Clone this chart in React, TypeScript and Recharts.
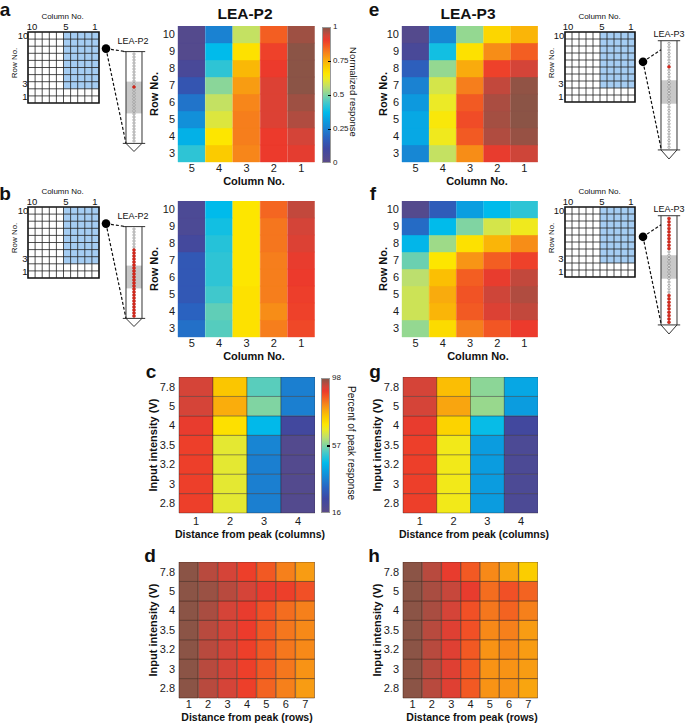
import React from "react";
import {
  BarChart,
  Bar,
  XAxis,
  YAxis,
  Cell,
  ScatterChart,
  Scatter,
  ReferenceLine,
  ReferenceArea,
} from "recharts";

const FONT = '"Liberation Sans", Arial, Helvetica, sans-serif';

// ---------- heatmap data (a, b, e, f): normalized response ----------
const columnNos = ["5", "4", "3", "2", "1"];
const rowNos = ["10", "9", "8", "7", "6", "5", "4", "3"]; // top to bottom

// rows 10..3, columns 5..1
const p2Single = [
  [0.02, 0.25, 0.57, 0.86, 0.985],
  [0.02, 0.37, 0.67, 0.9, 1.0],
  [0.06, 0.42, 0.74, 0.91, 1.0],
  [0.14, 0.51, 0.78, 0.93, 1.0],
  [0.22, 0.57, 0.81, 0.93, 0.985],
  [0.28, 0.6, 0.82, 0.93, 0.97],
  [0.35, 0.66, 0.82, 0.91, 0.94],
  [0.42, 0.71, 0.81, 0.91, 0.92],
];
const p2Multi = [
  [0.05, 0.37, 0.66, 0.85, 0.955],
  [0.05, 0.39, 0.66, 0.83, 0.94],
  [0.08, 0.41, 0.66, 0.83, 0.93],
  [0.15, 0.42, 0.66, 0.82, 0.915],
  [0.15, 0.42, 0.66, 0.82, 0.91],
  [0.15, 0.44, 0.67, 0.82, 0.905],
  [0.18, 0.47, 0.67, 0.8, 0.9],
  [0.21, 0.46, 0.67, 0.82, 0.89],
];
const p3Single = [
  [0.02, 0.26, 0.52, 0.69, 0.745],
  [0.06, 0.39, 0.67, 0.8, 0.86],
  [0.17, 0.52, 0.76, 0.9, 0.94],
  [0.25, 0.59, 0.82, 0.955, 0.995],
  [0.3, 0.62, 0.865, 0.975, 1.0],
  [0.33, 0.65, 0.885, 0.98, 1.0],
  [0.33, 0.63, 0.865, 0.97, 0.99],
  [0.26, 0.57, 0.8, 0.915, 0.945],
];
const p3Multi = [
  [0.02, 0.16, 0.31, 0.37, 0.42],
  [0.2, 0.37, 0.5, 0.59, 0.63],
  [0.36, 0.53, 0.67, 0.745, 0.8],
  [0.48, 0.66, 0.79, 0.86, 0.9],
  [0.56, 0.73, 0.86, 0.915, 0.955],
  [0.58, 0.76, 0.875, 0.945, 0.97],
  [0.58, 0.745, 0.865, 0.93, 0.955],
  [0.52, 0.68, 0.82, 0.87, 0.91],
];

// ---------- spread data (c, d, g, h): percent of peak response ----------
const intensities = ["7.8", "5", "4", "3.5", "3.2", "3", "2.8"]; // top to bottom
const colDistances = ["1", "2", "3", "4"];
const rowDistances = ["1", "2", "3", "4", "5", "6", "7"];

const p2ColSpread = [
  [93, 75, 54, 36],
  [93, 78, 57, 36],
  [91, 71, 46, 23],
  [90, 66, 37, 18],
  [90, 66, 36, 18],
  [90, 66, 36, 18],
  [90, 66, 36, 18],
];
const p3ColSpread = [
  [93, 76, 58, 43],
  [93, 79, 59, 41],
  [91, 73, 47, 23],
  [90, 68, 41, 20],
  [90, 68, 41, 20],
  [90, 68, 41, 20],
  [90, 68, 41, 20],
];
const p2RowSpread = [
  [98, 95, 93, 90, 87, 83, 80],
  [98, 97, 95, 93, 91, 90, 88],
  [98, 96, 93, 91, 88, 85, 83],
  [98, 95, 93, 90.5, 87, 84, 82],
  [98, 95, 93, 90, 87, 84, 82],
  [98, 95, 93, 90, 87, 84, 81],
  [98, 95, 93, 90, 86, 83, 80],
];
const p3RowSpread = [
  [98, 95, 91, 87, 82, 79, 74],
  [98, 96, 94, 91, 85, 88, 86],
  [98, 96, 93, 88, 84, 86, 83],
  [98, 95, 92, 88, 82, 83, 80],
  [98, 95, 92, 87, 81, 82, 80],
  [98, 95, 92, 87, 81, 81, 80],
  [98, 95, 92, 87, 81, 81, 79],
];

// ---------- electrode schematics ----------
const gridIdx = [1, 2, 3, 4, 5, 6, 7, 8, 9];
const gridCorners = [
  { x: 0, y: 0 },
  { x: 10, y: 10 },
];
const redP2a = [11];
const redP2b = [7, 8, 9, 10, 11, 12, 13, 14, 15, 16, 17, 18, 19, 20, 21, 22, 23, 24, 25, 26, 27, 28, 29];
const redP3e = [7];
const redP3f = [0, 1, 2, 3, 4, 5, 6, 7, 8, 9, 23, 24, 25, 26, 27, 28, 29, 30, 31];

// ---------- colormap ----------
const cmap: Array<[number, string]> = [
  [0.0, "#5a4b88"],
  [0.1, "#3e48a2"],
  [0.18, "#2a62c0"],
  [0.25, "#1a82d2"],
  [0.31, "#0a9ee0"],
  [0.37, "#00bbeb"],
  [0.44, "#40c8cc"],
  [0.5, "#80d4a2"],
  [0.56, "#bcdf6e"],
  [0.62, "#ecea26"],
  [0.66, "#fde600"],
  [0.72, "#fbc600"],
  [0.77, "#f9a410"],
  [0.82, "#f67e1c"],
  [0.87, "#f25624"],
  [0.91, "#ec3a2c"],
  [0.94, "#d44438"],
  [0.97, "#b04c40"],
  [1.0, "#8b5446"],
];

const rgb = (h: string) => [1, 3, 5].map((i) => parseInt(h.slice(i, i + 2), 16));

function colorAt(t: number) {
  const v = Math.max(0, Math.min(1, t));
  for (let i = 1; i < cmap.length; i++) {
    if (v <= cmap[i][0]) {
      const [t0, c0] = cmap[i - 1];
      const [t1, c1] = cmap[i];
      const f = (v - t0) / (t1 - t0);
      const a = rgb(c0);
      const b = rgb(c1);
      return `rgb(${a.map((x, k) => Math.round(x + (b[k] - x) * f)).join(",")})`;
    }
  }
  return cmap[cmap.length - 1][1];
}

const norm = (v: number) => v;
const pct = (p: number) => (p - 16) / 82;

const gradient = `linear-gradient(to top, ${cmap.map(([t, c]) => `${c} ${t * 100}%`).join(", ")})`;

// ---------- pieces ----------
const Label = ({ x, y, text, size = 11, bold = false, rotate = 0 }: any) => (
  <div
    style={{
      position: "absolute",
      left: x,
      top: y,
      transform: `translate(-50%, -50%) rotate(${rotate}deg)`,
      fontSize: size,
      fontWeight: bold ? 700 : 400,
      whiteSpace: "nowrap",
      lineHeight: 1,
      color: "#111",
    }}
  >
    {text}
  </div>
);

function Heatmap({ left, top, plotW, plotH, cols, rows, values, toT, stroke, xMargin = 3, yMargin = 3 }: any) {
  const yw = 30;
  const xh = 22;
  const n = rows.length;
  const data = cols.map((c: string) => {
    const d: Record<string, string | number> = { name: c };
    rows.forEach((_: string, k: number) => (d[`r${k}`] = 1));
    return d;
  });
  return (
    <div style={{ position: "absolute", left: left - yw, top }}>
      <BarChart
        width={plotW + yw}
        height={plotH + xh}
        data={data}
        margin={{ top: 0, right: 0, bottom: 0, left: 0 }}
        barCategoryGap={0}
        barGap={0}
      >
        <XAxis
          dataKey="name"
          axisLine={false}
          tickLine={false}
          tickSize={0}
          tickMargin={xMargin}
          height={xh}
          interval={0}
          tick={{ fontSize: 11, fill: "#1a1a1a" }}
        />
        <YAxis
          type="number"
          domain={[0, n]}
          ticks={rows.map((_: string, i: number) => n - i - 0.5)}
          tickFormatter={(v: number) => rows[n - 1 - Math.floor(v)]}
          width={yw}
          axisLine={false}
          tickLine={false}
          tickSize={0}
          tickMargin={yMargin}
          interval={0}
          tick={{ fontSize: 11, fill: "#1a1a1a" }}
        />
        {rows.map((_: string, k: number) => {
          const i = n - 1 - k;
          return (
            <Bar key={k} dataKey={`r${k}`} stackId="cells" isAnimationActive={false}>
              {cols.map((c: string, j: number) => {
                const fill = colorAt(toT(values[i][j]));
                return <Cell key={c} fill={fill} stroke={stroke ?? fill} strokeWidth={stroke ? 0.8 : 0.4} />;
              })}
            </Bar>
          );
        })}
      </BarChart>
    </div>
  );
}

function ArrayGrid({ left, top, size }: any) {
  return (
    <div style={{ position: "absolute", left: left - 1, top: top - 1 }}>
      <ScatterChart width={size + 2} height={size + 2} margin={{ top: 1, right: 1, bottom: 1, left: 1 }}>
        <XAxis type="number" dataKey="x" domain={[0, 10]} hide />
        <YAxis type="number" dataKey="y" domain={[0, 10]} hide />
        <ReferenceArea x1={5} x2={10} y1={2} y2={10} fill="#a5cdf3" fillOpacity={1} stroke="none" />
        {gridIdx.map((v) => (
          <ReferenceLine key={`v${v}`} x={v} stroke="#222" strokeWidth={0.8} />
        ))}
        {gridIdx.map((v) => (
          <ReferenceLine key={`h${v}`} y={v} stroke="#222" strokeWidth={0.8} />
        ))}
        <ReferenceArea x1={0} x2={10} y1={0} y2={10} fill="none" stroke="#111" strokeWidth={1.6} />
        <Scatter data={gridCorners} isAnimationActive={false} shape={() => <g />} />
      </ScatterChart>
    </div>
  );
}

const ContactShape = (p: any) => {
  const on = p.payload && p.payload.on;
  return (
    <circle
      cx={p.cx}
      cy={p.cy}
      r={on ? 1.5 : 1.15}
      fill={on ? "#d9291c" : "#fff"}
      stroke={on ? "#b8221a" : "#666"}
      strokeWidth={0.55}
    />
  );
};
const DotShape = (p: any) => <circle cx={p.cx} cy={p.cy} r={4.3} fill="#000" />;

function Electrode({ cx, top, unitY, n, red, band, dot, dashTop, dashBottom }: any) {
  const unitX = 8;
  const xMin = -5;
  const xMax = 1.6;
  const yMin = -4;
  const yMax = n + 4;
  const contacts = Array.from({ length: n }, (_, i) => ({ x: 0, y: i, on: red.includes(i) }));
  const bot = n - 0.2;
  const tip = n + 2.5;
  const line = { stroke: "#333", strokeWidth: 1 };
  return (
    <div style={{ position: "absolute", left: cx + xMin * unitX, top }}>
      <ScatterChart
        width={(xMax - xMin) * unitX}
        height={(yMax - yMin) * unitY}
        margin={{ top: 0, right: 0, bottom: 0, left: 0 }}
      >
        <XAxis type="number" dataKey="x" domain={[xMin, xMax]} hide />
        <YAxis type="number" dataKey="y" domain={[yMin, yMax]} reversed hide />
        <ReferenceArea x1={-1} x2={1} y1={band[0]} y2={band[1]} fill="#c8c8c8" fillOpacity={1} stroke="none" />
        <ReferenceLine segment={[{ x: -1, y: -0.8 }, { x: -1, y: bot }]} {...line} />
        <ReferenceLine segment={[{ x: 1, y: -0.8 }, { x: 1, y: bot }]} {...line} />
        <ReferenceLine segment={[{ x: -1.4, y: -0.8 }, { x: 1.4, y: -0.8 }]} {...line} />
        <ReferenceLine segment={[{ x: -1.4, y: bot }, { x: 1.4, y: bot }]} {...line} />
        <ReferenceLine segment={[{ x: -1, y: bot }, { x: 0, y: tip }]} {...line} />
        <ReferenceLine segment={[{ x: 0, y: tip }, { x: 1, y: bot }]} {...line} />
        <ReferenceLine segment={[dot, dashTop]} stroke="#111" strokeWidth={1.2} strokeDasharray="3 2" />
        <ReferenceLine segment={[dot, dashBottom]} stroke="#111" strokeWidth={1.2} strokeDasharray="3 2" />
        <Scatter data={contacts} isAnimationActive={false} shape={ContactShape} />
        <Scatter data={[dot]} isAnimationActive={false} shape={DotShape} />
      </ScatterChart>
    </div>
  );
}

function Schematic({ gx, gy, colXs, rowLabelX, rowNoX, probe, probeX, probeY }: any) {
  return (
    <>
      <Label x={(gx + gx + 71) / 2 - 1} y={gy - 15} text="Column No." size={8} />
      <Label x={colXs[0]} y={gy - 5} text="10" size={9.5} />
      <Label x={colXs[1]} y={gy - 5} text="5" size={9.5} />
      <Label x={colXs[2]} y={gy - 5} text="1" size={9.5} />
      <Label x={rowNoX} y={gy + 31} text="Row No." size={8} rotate={-90} />
      <Label x={rowLabelX - 2} y={gy + 4} text="10" size={9.5} />
      <Label x={rowLabelX} y={gy + 52} text="3" size={9.5} />
      <Label x={rowLabelX} y={gy + 65} text="1" size={9.5} />
      <Label x={probeX} y={probeY} text={probe} size={9} />
    </>
  );
}

const Colorbar = ({ left, top, height, labels }: any) => (
  <>
    <div
      style={{
        position: "absolute",
        left,
        top,
        width: 9,
        height,
        background: gradient,
        border: "0.5px solid #999",
        boxSizing: "border-box",
      }}
    />
    {labels.map(([frac, txt, mark]: [number, string, boolean]) => (
      <React.Fragment key={txt}>
        {mark && (
          <div
            style={{
              position: "absolute",
              left: left + 6,
              top: top + height * (1 - frac) - 0.5,
              width: 3,
              height: 1.5,
              background: "#000",
            }}
          />
        )}
        <div
          style={{
            position: "absolute",
            left: left + 11,
            top: top + height * (1 - frac) - 5,
            fontSize: 8,
            lineHeight: "10px",
            color: "#222",
          }}
        >
          {txt}
        </div>
      </React.Fragment>
    ))}
  </>
);

export default function App() {
  return (
    <div
      style={{
        position: "absolute",
        left: 0,
        top: 0,
        width: 685,
        height: 725,
        background: "#fff",
        fontFamily: FONT,
        overflow: "hidden",
      }}
    >
      {/* panel letters */}
      <Label x={5} y={9} text="a" size={19} bold />
      <Label x={5} y={193} text="b" size={19} bold />
      <Label x={151} y={371} text="c" size={19} bold />
      <Label x={150} y={555} text="d" size={19} bold />
      <Label x={374} y={9} text="e" size={19} bold />
      <Label x={373} y={193} text="f" size={19} bold />
      <Label x={375} y={371} text="g" size={19} bold />
      <Label x={374} y={555} text="h" size={19} bold />

      {/* titles */}
      <Label x={245} y={14} text="LEA-P2" size={15.5} bold />
      <Label x={468} y={14} text="LEA-P3" size={15.5} bold />

      {/* schematics */}
      <ArrayGrid left={28} top={32} size={71} />
      <Schematic gx={28} gy={32} colXs={[32, 66, 95]} rowLabelX={25} rowNoX={15} probe="LEA-P2" probeX={133} probeY={41} />
      <Electrode cx={134} top={41.5} unitY={3} n={30} red={redP2a} band={[9.2, 19.8]}
        dot={{ x: -3.5, y: -1.8 }} dashTop={{ x: -1, y: -0.8 }} dashBottom={{ x: -1, y: 29.8 }} />

      <ArrayGrid left={28} top={207} size={71} />
      <Schematic gx={28} gy={207} colXs={[32, 66, 95]} rowLabelX={25} rowNoX={15} probe="LEA-P2" probeX={133} probeY={216} />
      <Electrode cx={134} top={216.5} unitY={3} n={30} red={redP2b} band={[12.2, 19.8]}
        dot={{ x: -3.5, y: -1.8 }} dashTop={{ x: -1, y: -0.8 }} dashBottom={{ x: -1, y: 29.8 }} />

      <ArrayGrid left={565} top={32} size={70} />
      <Schematic gx={565} gy={32} colXs={[568, 602, 631]} rowLabelX={561} rowNoX={552} probe="LEA-P3" probeX={669} probeY={34} />
      <Electrode cx={669} top={30.3} unitY={3.35} n={32} red={redP3e} band={[11, 18]}
        dot={{ x: -3.25, y: 5.5 }} dashTop={{ x: -1, y: 1.9 }} dashBottom={{ x: -1, y: 31.3 }} />

      <ArrayGrid left={565} top={207} size={70} />
      <Schematic gx={565} gy={207} colXs={[568, 602, 631]} rowLabelX={561} rowNoX={552} probe="LEA-P3" probeX={669} probeY={209} />
      <Electrode cx={669} top={205.3} unitY={3.35} n={32} red={redP3f} band={[11, 18]}
        dot={{ x: -3.25, y: 5.5 }} dashTop={{ x: -1, y: 1.9 }} dashBottom={{ x: -1, y: 31.3 }} />

      {/* a */}
      <Heatmap left={178} top={26} plotW={137} plotH={136} cols={columnNos} rows={rowNos} values={p2Single} toT={norm} xMargin={2} />
      <Label x={154} y={94} text="Row No." size={11} bold rotate={-90} />
      <Label x={254} y={181} text="Column No." size={11} bold />
      <Colorbar left={322} top={27} height={136}
        labels={[[1, "1", false], [0.75, "0.75", true], [0.5, "0.5", true], [0.25, "0.25", true], [0, "0", false]]} />
      <Label x={353} y={92} text="Normalized response" size={9.5} rotate={90} />

      {/* b */}
      <Heatmap left={178} top={201} plotW={137} plotH={136} cols={columnNos} rows={rowNos} values={p2Multi} toT={norm} xMargin={2} />
      <Label x={154} y={269} text="Row No." size={11} bold rotate={-90} />
      <Label x={254} y={356} text="Column No." size={11} bold />

      {/* e */}
      <Heatmap left={402} top={26} plotW={136} plotH={136} cols={columnNos} rows={rowNos} values={p3Single} toT={norm} xMargin={2} />
      <Label x={383} y={94} text="Row No." size={11} bold rotate={-90} />
      <Label x={477} y={181} text="Column No." size={11} bold />

      {/* f */}
      <Heatmap left={402} top={201} plotW={136} plotH={136} cols={columnNos} rows={rowNos} values={p3Multi} toT={norm} xMargin={2} />
      <Label x={383} y={269} text="Row No." size={11} bold rotate={-90} />
      <Label x={478} y={356} text="Column No." size={11} bold />

      {/* c */}
      <Heatmap left={179} top={377} plotW={136} plotH={136} cols={colDistances} rows={intensities} values={p2ColSpread} toT={pct}
        stroke="rgba(40,30,30,0.45)" xMargin={4} yMargin={4} />
      <Label x={153} y={445} text="Input intensity (V)" size={11} bold rotate={-90} />
      <Label x={250} y={534} text="Distance from peak (columns)" size={10.5} bold />
      <Colorbar left={321} top={378} height={135}
        labels={[[1, "98", false], [0.5, "57", true], [0, "16", false]]} />
      <Label x={351} y={443} text="Percent of peak response" size={10} rotate={90} />

      {/* g */}
      <Heatmap left={403} top={377} plotW={135} plotH={136} cols={colDistances} rows={intensities} values={p3ColSpread} toT={pct}
        stroke="rgba(40,30,30,0.45)" xMargin={4} yMargin={4} />
      <Label x={377} y={445} text="Input intensity (V)" size={11} bold rotate={-90} />
      <Label x={474} y={534} text="Distance from peak (columns)" size={10.5} bold />

      {/* d */}
      <Heatmap left={179} top={562} plotW={136} plotH={136} cols={rowDistances} rows={intensities} values={p2RowSpread} toT={pct}
        stroke="rgba(60,30,20,0.6)" xMargin={2} yMargin={4} />
      <Label x={153} y={630} text="Input intensity (V)" size={11} bold rotate={-90} />
      <Label x={247} y={717} text="Distance from peak (rows)" size={10.5} bold />

      {/* h */}
      <Heatmap left={403} top={562} plotW={135} plotH={136} cols={rowDistances} rows={intensities} values={p3RowSpread} toT={pct}
        stroke="rgba(60,30,20,0.6)" xMargin={2} yMargin={4} />
      <Label x={377} y={630} text="Input intensity (V)" size={11} bold rotate={-90} />
      <Label x={472} y={717} text="Distance from peak (rows)" size={10.5} bold />
    </div>
  );
}
